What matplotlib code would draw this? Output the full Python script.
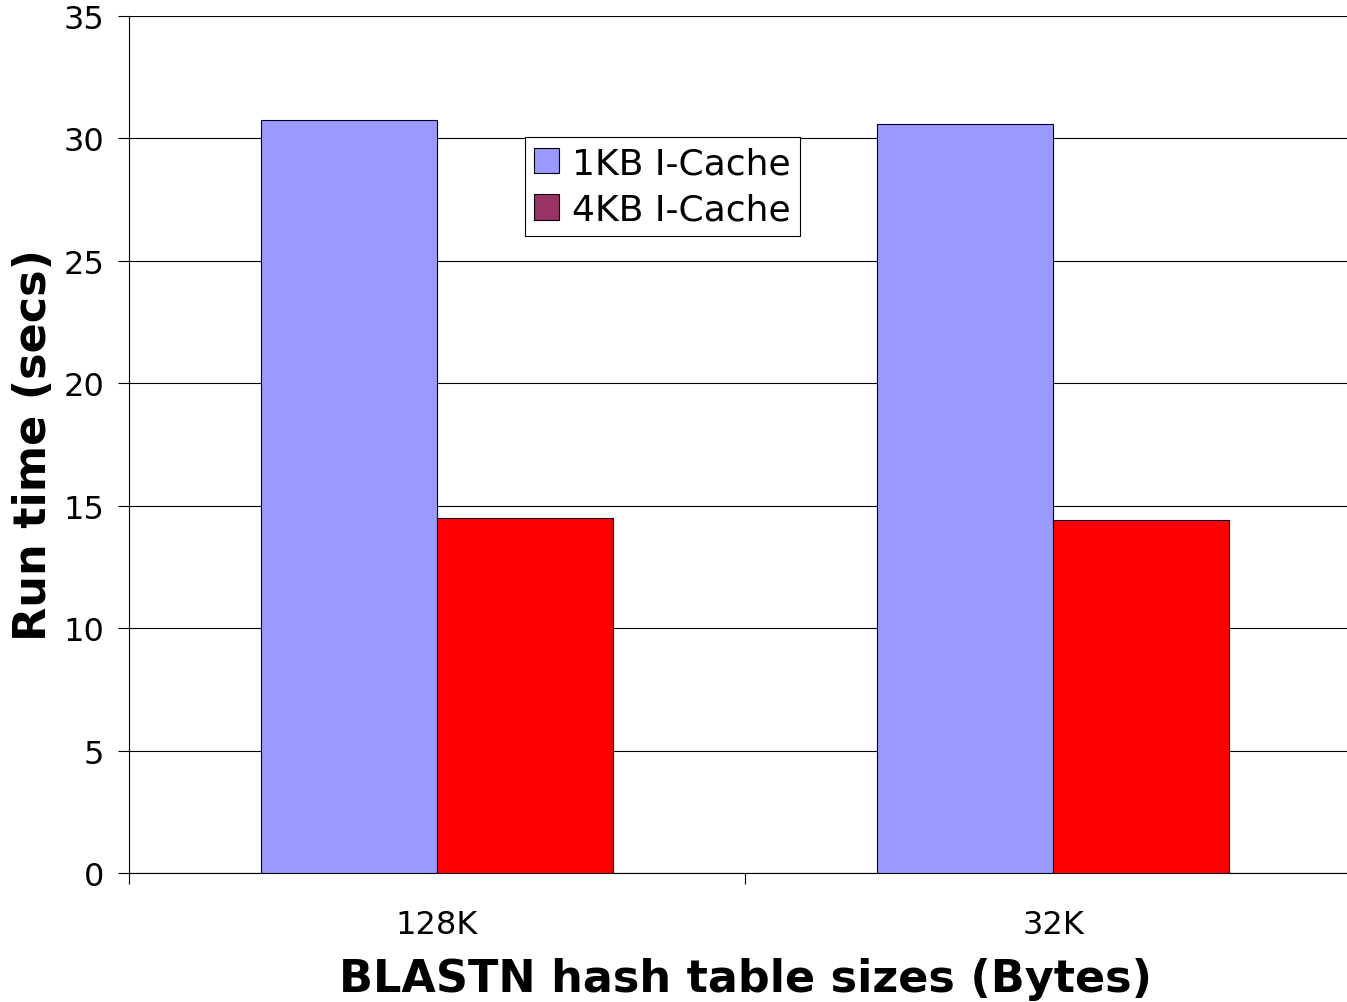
import numpy as np
import matplotlib.pyplot as plt
from matplotlib.patches import Patch

# === Data ===
categories = ['128K', '32K']
cache_1kb = [30.75, 30.6]
cache_4kb = [14.5, 14.4]
series_names = ['1KB I-Cache', '4KB I-Cache']

fig = plt.figure(figsize=(13.47, 10.03), dpi=100)
ax = fig.add_axes([129 / 1347, 1 - 874 / 1003, 1232 / 1347, 857 / 1003])

x = np.arange(len(categories))
w = 0.2857
ax.bar(x - w / 2, cache_1kb, w, color='#9999FF', edgecolor='#000033', linewidth=0.8, zorder=3)
ax.bar(x + w / 2, cache_4kb, w, color='#FF0000', edgecolor='#000033', linewidth=0.8, zorder=3)

ax.set_xlim(-0.5, len(categories) - 0.5)
ax.set_ylim(0, 35)
ax.set_yticks(np.arange(0, 36, 5))
ax.yaxis.grid(True, color='black', linewidth=0.8, zorder=0)

# category ticks at the boundaries, labels in the middle
ax.set_xticks(np.arange(-0.5, len(categories), 1.0))
ax.set_xticklabels([])
ax.set_xticks(x, minor=True)
ax.set_xticklabels(categories, minor=True)
ax.tick_params(axis='x', which='major', direction='out', length=8, width=0.8)
ax.tick_params(axis='x', which='minor', length=0, pad=26, labelsize=23)
ax.tick_params(axis='y', direction='out', length=8, width=0.8, pad=10, labelsize=23)

for s in ['top', 'right']:
    ax.spines[s].set_visible(False)
ax.spines['left'].set_linewidth(0.8)
ax.spines['bottom'].set_linewidth(0.8)

ax.set_xlabel('BLASTN hash table sizes (Bytes)', fontsize=32, fontweight='bold', labelpad=12)
ax.set_ylabel('Run time (secs)', fontsize=32, fontweight='bold', labelpad=6)

handles = [Patch(facecolor='#9999FF', edgecolor='black', linewidth=0.8),
           Patch(facecolor='#993366', edgecolor='black', linewidth=0.8)]
leg = ax.legend(handles, series_names, loc='upper left',
                bbox_to_anchor=((525 - 129) / 1232, (874 - 138) / 857),
                fontsize=26, frameon=True, fancybox=False, framealpha=1,
                edgecolor='black', handlelength=0.7, handleheight=0.7,
                handletextpad=0.35, borderpad=0.25, labelspacing=0.35,
                borderaxespad=0)
leg.get_frame().set_linewidth(0.8)

fig.savefig('out.png', dpi=100)
